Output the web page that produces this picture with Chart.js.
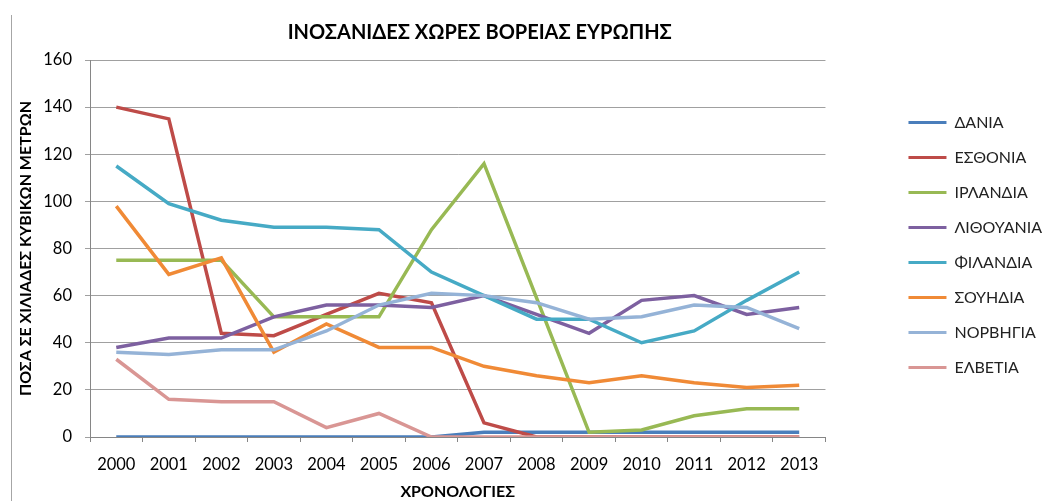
<!DOCTYPE html>
<html>
<head>
<meta charset="utf-8">
<script src="https://cdn.jsdelivr.net/npm/chart.js@4"></script>
<style>
  html, body { margin: 0; padding: 0; background: #fff; }
  #wrap { position: relative; width: 1046px; height: 501px; }
  #edge { position: absolute; left: 11px; top: 15px; width: 1px; height: 486px; background: #a6a6a6; }
</style>
</head>
<body>
<div id="wrap">
  <canvas id="myChart" width="1046" height="501"></canvas>
  <div id="edge"></div>
</div>
<script>
const years = ["2000", "2001", "2002", "2003", "2004", "2005", "2006", "2007", "2008", "2009", "2010", "2011", "2012", "2013"];

const dania = [0, 0, 0, 0, 0, 0, 0, 2, 2, 2, 2, 2, 2, 2];
const esthonia = [140, 135, 44, 43, 52, 61, 57, 6, 0, 0, 0, 0, 0, 0];
const irlandia = [75, 75, 75, 51, 51, 51, 88, 116, 59, 2, 3, 9, 12, 12];
const lithouania = [38, 42, 42, 51, 56, 56, 55, 60, 52, 44, 58, 60, 52, 55];
const finlandia = [115, 99, 92, 89, 89, 88, 70, 60, 50, 50, 40, 45, 58, 70];
const souhdia = [98, 69, 76, 36, 48, 38, 38, 30, 26, 23, 26, 23, 21, 22];
const norbhgia = [36, 35, 37, 37, 45, 56, 61, 60, 57, 50, 51, 56, 55, 46];
const elbetia = [33, 16, 15, 15, 4, 10, 0, 0, 0, 0, 0, 0, 0, 0];

const yTicks = [0, 20, 40, 60, 80, 100, 120, 140, 160];

const names = ["ΔΑΝΙΑ", "ΕΣΘΟΝΙΑ", "ΙΡΛΑΝΔΙΑ", "ΛΙΘΟΥΑΝΙΑ", "ΦΙΛΑΝΔΙΑ", "ΣΟΥΗΔΙΑ", "ΝΟΡΒΗΓΙΑ", "ΕΛΒΕΤΙΑ"];
const series = [dania, esthonia, irlandia, lithouania, finlandia, souhdia, norbhgia, elbetia];
const colors = ["#4a7ebb", "#be4b48", "#98b954", "#7d60a0", "#46aac5", "#f08a36", "#95b3d7", "#d99694"];

const font = "Lato, 'Open Sans', sans-serif";

// nudge title and legend to where the original sheet had them
const nudge = {
  id: "nudge",
  afterLayout(chart) {
    chart.titleBlock.left += 22;
    chart.titleBlock.right += 22;
    chart.legend.left += 6;
    chart.legend.right += 6;
    chart.legend.top -= 8;
    chart.legend.bottom -= 8;
  },
};

const ctx = document.getElementById("myChart").getContext("2d");
const chart = new Chart(ctx, {
  type: "line",
  data: {
    labels: years,
    datasets: series.map((d, i) => ({
      label: names[i],
      data: d,
      borderColor: colors[i],
      backgroundColor: colors[i],
      borderWidth: 3.5,
      pointRadius: 0,
      tension: 0,
      order: -i,
    })),
  },
  plugins: [nudge],
  options: {
    responsive: false,
    animation: false,
    layout: { padding: { left: 16, right: 0, top: 5, bottom: 0 } },
    plugins: {
      title: {
        display: true,
        text: "ΙΝΟΣΑΝΙΔΕΣ ΧΩΡΕΣ ΒΟΡΕΙΑΣ ΕΥΡΩΠΗΣ",
        fullSize: false,
        color: "#000",
        font: { family: font, size: 20, weight: "bold" },
        padding: { top: 16, bottom: 15 },
      },
      legend: {
        position: "right",
        labels: {
          color: "#222",
          font: { family: font, size: 16 },
          boxWidth: 38,
          boxHeight: 3,
          padding: 19,
          sort: (a, b) => a.datasetIndex - b.datasetIndex,
          generateLabels: (c) =>
            Chart.defaults.plugins.legend.labels.generateLabels(c).map((item) => ({
              ...item,
              lineWidth: 0,
            })),
        },
      },
      tooltip: { enabled: false },
    },
    scales: {
      x: {
        offset: true,
        afterFit: (scale) => {
          scale.height = 64;
        },
        grid: {
          offset: true,
          drawOnChartArea: false,
          drawTicks: true,
          tickLength: 5,
          color: "#868686",
        },
        border: { color: "#868686", width: 1 },
        ticks: { color: "#000", font: { family: font, size: 16.5 }, padding: 13, maxRotation: 0 },
        title: {
          display: true,
          text: "ΧΡΟΝΟΛΟΓΙΕΣ",
          color: "#000",
          font: { family: font, size: 16, weight: "bold" },
          padding: { top: 0, bottom: 0 },
        },
      },
      y: {
        min: 0,
        max: 160,
        afterBuildTicks: (scale) => {
          scale.ticks = yTicks.map((v) => ({ value: v }));
        },
        afterFit: (scale) => {
          scale.width = 74;
        },
        grid: { color: "#a0a0a0", tickLength: 5, lineWidth: 1 },
        border: { color: "#868686", width: 1 },
        ticks: { color: "#000", font: { family: font, size: 16.5 }, padding: 13 },
        title: {
          display: true,
          text: "ΠΟΣΑ ΣΕ ΧΙΛΙΑΔΕΣ ΚΥΒΙΚΩΝ ΜΕΤΡΩΝ",
          color: "#000",
          font: { family: font, size: 16, weight: "bold" },
          padding: { top: 0, bottom: 0 },
        },
      },
      gap: {
        position: "right",
        display: true,
        grid: { display: false },
        border: { display: false },
        ticks: { display: false },
        afterFit: (scale) => {
          scale.width = 58;
        },
      },
    },
  },
});
</script>
</body>
</html>
